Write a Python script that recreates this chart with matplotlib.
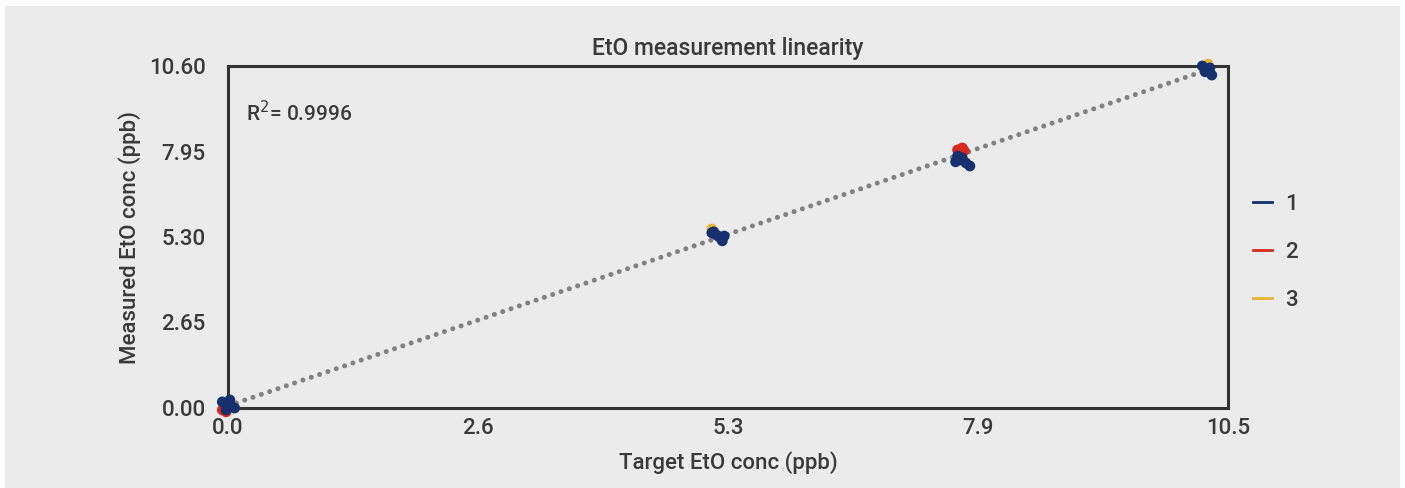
import numpy as np
import matplotlib
matplotlib.use("Agg")
import matplotlib.pyplot as plt
from matplotlib.lines import Line2D
from matplotlib.patches import Rectangle

plt.rcParams["font.family"] = ["Roboto", "DejaVu Sans"]
plt.rcParams["font.weight"] = "medium"
plt.rcParams["axes.titleweight"] = "medium"
plt.rcParams["axes.labelweight"] = "medium"

# measurements per instrument (target conc, measured conc)
s1_x = [-0.06, 0.00, 0.04, -0.02, 0.07, 0.02,
        5.10, 5.16, 5.21, 5.08, 5.19, 5.13,
        7.66, 7.71, 7.75, 7.79, 7.69, 7.64,
        10.23, 10.28, 10.33, 10.26, 10.31]
s1_y = [0.19, 0.09, 0.03, -0.06, 0.00, 0.25,
        5.46, 5.30, 5.33, 5.43, 5.18, 5.36,
        7.81, 7.75, 7.59, 7.50, 7.69, 7.63,
        10.60, 10.48, 10.32, 10.42, 10.54]
s2_x = [-0.02, -0.06, 7.66, 7.73, 7.71]
s2_y = [-0.12, -0.06, 8.00, 7.97, 8.06]
s3_x = [0.01, 5.08, 7.70, 10.29]
s3_y = [0.05, 5.55, 8.02, 10.66]

series = [("1", s1_x, s1_y, "#16306f"),
          ("2", s2_x, s2_y, "#d8281f"),
          ("3", s3_x, s3_y, "#e6b43a")]

x_ticks = [0, 2.625, 5.25, 7.875, 10.5]
x_labels = ["0.0", "2.6", "5.3", "7.9", "10.5"]
y_ticks = [0, 2.65, 5.30, 7.95, 10.60]
y_labels = ["0.00", "2.65", "5.30", "7.95", "10.60"]

bg = "#ebebeb"
txt = "#3a3a3a"
fs = 16

fig = plt.figure(figsize=(14.05, 4.88), dpi=100, facecolor="white")
fig.patches.append(Rectangle((5 / 1405, 0), 1395 / 1405, 482 / 488,
                             transform=fig.transFigure, facecolor=bg,
                             edgecolor="none", zorder=-10))
ax = fig.add_axes([228 / 1405, 80 / 488, 1000 / 1405, 342 / 488])
ax.set_facecolor(bg)

# linear fit over all instruments
all_x = np.concatenate([s1_x, s2_x, s3_x])
all_y = np.concatenate([s1_y, s2_y, s3_y])
k, b = np.polyfit(all_x, all_y, 1)
fx = np.array([0, max(all_x)])
ax.plot(fx, k * fx + b, color="#6f6f6f", lw=3.6, linestyle=(0, (0.01, 1.75)),
        dash_capstyle="round", alpha=0.85, zorder=2)

for name, xs, ys, c in series[::-1]:
    ax.scatter(xs, ys, s=60, color=c, edgecolors="none", zorder=3,
               clip_on=False)

ax.set_xlim(0, 10.5)
ax.set_ylim(0, 10.6)
ax.set_xticks(x_ticks)
ax.set_xticklabels(x_labels)
ax.set_yticks(y_ticks)
ax.set_yticklabels(y_labels)
ax.tick_params(length=0, labelsize=fs, colors=txt)
ax.tick_params(axis="y", pad=16)
ax.tick_params(axis="x", pad=7)
for sp in ax.spines.values():
    sp.set_color("#333333")
    sp.set_linewidth(2.2)

ax.set_title("EtO measurement linearity", fontsize=16.5, color=txt, pad=8)
ax.set_xlabel("Target EtO conc (ppb)", fontsize=fs, color=txt, labelpad=9)
ax.set_ylabel("Measured EtO conc (ppb)", fontsize=fs, color=txt, labelpad=6)

ax.text(0.018, 0.865, "R$^2$= 0.9996", transform=ax.transAxes, fontsize=15,
        color=txt, va="center")

handles = [Line2D([], [], color=c, lw=2) for _, _, _, c in series]
ax.legend(handles, [s[0] for s in series], loc="center left",
          bbox_to_anchor=(1.005, 0.455), frameon=False, fontsize=fs,
          handlelength=0.85, handletextpad=0.6, labelspacing=1.22,
          labelcolor=txt)

fig.savefig("out.png", dpi=100, facecolor="white")
